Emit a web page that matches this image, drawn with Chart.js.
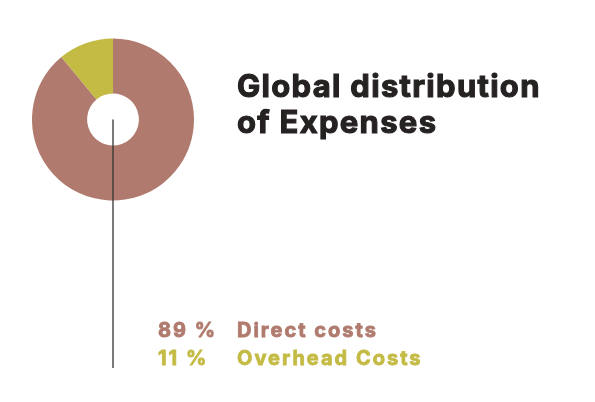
<!DOCTYPE html>
<html>
<head>
<meta charset="utf-8">
<script src="https://cdn.jsdelivr.net/npm/chart.js@4"></script>
<style>
  html, body { margin: 0; padding: 0; background: #fff; }
  #wrap { position: relative; width: 595px; height: 402px; overflow: hidden; }
  #chart { position: absolute; left: 0; top: 0; }
  .title {
    position: absolute; left: 237px; top: 68px;
    font-family: Inter, sans-serif; font-weight: 700;
    font-size: 31px; line-height: 36px; color: #262222;
    letter-spacing: 1.3px; -webkit-text-stroke: 1.1px #262222;
    white-space: nowrap;
  }
  .legend {
    position: absolute; left: 158px; top: 316px;
    font-family: Inter, sans-serif; font-weight: 700;
    font-size: 20px; line-height: 28px; white-space: nowrap;
    letter-spacing: 2px;
  }
  .legend div { -webkit-text-stroke: 0.8px currentColor; }
  .legend .pct { display: inline-block; width: 79px; }
</style>
</head>
<body>
<div id="wrap">
  <canvas id="chart" width="595" height="402"></canvas>
  <div class="title">Global distribution<br>of Expenses</div>
  <div class="legend" id="legend"></div>
</div>
<script>
var categories = ["Direct costs", "Overhead Costs"];
var shares = [89, 11];
var colors = ["#b07b6e", "#c4bb45"];

// legend built from the same arrays
var legend = document.getElementById("legend");
categories.forEach(function (name, i) {
    var row = document.createElement("div");
    row.style.color = colors[i];
    row.innerHTML = '<span class="pct">' + shares[i] + ' %</span>' + name;
    legend.appendChild(row);
});

// vertical pointer line from the doughnut centre
var pointerLine = {
    id: "pointerLine",
    afterDatasetsDraw: function (chart) {
        var arc = chart.getDatasetMeta(0).data[0];
        var ctx = chart.ctx;
        ctx.save();
        ctx.strokeStyle = "#333";
        ctx.lineWidth = 1.3;
        ctx.beginPath();
        ctx.moveTo(arc.x, arc.y);
        ctx.lineTo(arc.x, 368);
        ctx.stroke();
        ctx.restore();
    }
};

new Chart(document.getElementById("chart"), {
    type: "doughnut",
    data: {
        labels: categories,
        datasets: [{
            data: shares,
            backgroundColor: colors,
            borderWidth: 0
        }]
    },
    options: {
        responsive: false,
        animation: false,
        cutout: "32%",
        layout: { padding: { left: 32, right: 401, top: 38, bottom: 201 } },
        plugins: {
            legend: { display: false },
            tooltip: { enabled: false }
        }
    },
    plugins: [pointerLine]
});
</script>
</body>
</html>
